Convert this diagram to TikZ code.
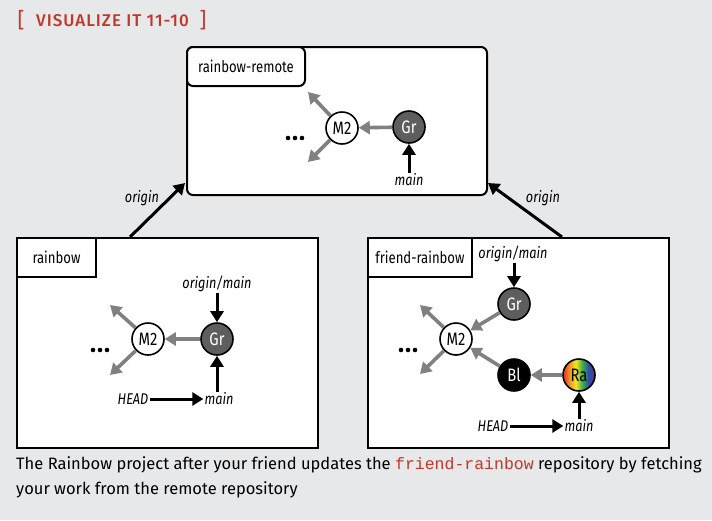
\documentclass[tikz,border=0pt]{standalone}
\usepackage{fontspec}
\setmainfont{Fira Sans}[FakeStretch=0.82]
\newfontfamily\capfont{Fira Sans}
\newfontfamily\titlefont{Fira Sans Medium}[LetterSpace=6]
\newfontfamily\codefont{Liberation Mono}
\usetikzlibrary{arrows.meta}
\definecolor{bg}{HTML}{E7E8E9}
\definecolor{titlered}{HTML}{C2372B}
\definecolor{arrgray}{HTML}{808080}
\definecolor{grfill}{HTML}{5E5E5E}
\definecolor{rbred}{HTML}{E8402A}
\definecolor{rborange}{HTML}{F39323}
\definecolor{rbyellow}{HTML}{F5E71C}
\definecolor{rbgreen}{HTML}{3FAE49}
\definecolor{rbblue}{HTML}{2B4FA8}
\definecolor{rbviolet}{HTML}{6B2C91}
\pgfdeclarehorizontalshading{rainbowshade}{100bp}{color(0bp)=(rbred); color(27bp)=(rbred); color(35bp)=(rborange); color(45bp)=(rbyellow); color(55bp)=(rbgreen); color(65bp)=(rbblue); color(73bp)=(rbviolet); color(100bp)=(rbviolet)}
\tikzset{
  box/.style={draw=black, line width=2pt, fill=white, anchor=north west, inner sep=0pt},
  lblbox/.style={draw=black, line width=2pt, fill=white, anchor=north west, inner sep=0pt, font=\fontsize{16}{16}\selectfont},
  commit/.style={circle, draw=black, line width=1.6pt, minimum size=32pt, inner sep=0pt, font=\fontsize{18}{18}\selectfont},
  grc/.style={commit, fill=grfill, text=white},
  blc/.style={commit, fill=black, text=white},
  wc/.style={commit, fill=white},
  rac/.style={commit, shading=rainbowshade},
  garrow/.style={draw=arrgray, line width=3.6pt, -{Triangle[length=11pt,width=13pt]}},
  barrow/.style={draw=black, line width=3pt, -{Triangle[length=11pt,width=13pt]}},
  lbl/.style={font=\fontsize{15.5}{15.5}\selectfont\itshape, inner sep=1pt},
  dot/.style={circle, fill=black, inner sep=0pt, minimum size=4.6pt},
}
\begin{document}
\begin{tikzpicture}[x=1pt,y=-1pt]
\fill[bg] (0,0) rectangle (712,520);
\useasboundingbox (0,0) rectangle (712,520);
% title
\node[text=titlered, font=\fontsize{21}{21}\selectfont\capfont, anchor=center] (lb) at (21,20) {[};
\node[text=titlered, font=\fontsize{17}{17}\selectfont\titlefont, anchor=west, inner sep=0pt] (title) at (36,21) {VISUALIZE IT 11-10};
\node[text=titlered, font=\fontsize{21}{21}\selectfont\capfont, anchor=center] (rb) at (203,20) {]};

% remote box
\node[box, rounded corners=6pt, minimum width=300pt, minimum height=148pt] (remote) at (186,46) {};
\node[lblbox, rounded corners=6pt, minimum width=118pt, minimum height=39pt] (remotelbl) at (186,46) {rainbow-remote};
\node[wc] (rm2) at (342,128) {M2};
\node[grc] (rgr) at (409,127) {Gr};
\coordinate (ru) at (308,92);
\coordinate (rd) at (308,162);
\draw[garrow] (rgr) -- (rm2);
\draw[garrow] (rm2) -- (ru);
\draw[garrow] (rm2) -- (rd);
\node[dot] (rd1) at (288,138) {};
\node[dot] (rd2) at (295,138) {};
\node[dot] (rd3) at (302,138) {};
\node[lbl] (rmain) at (409,180) {main};
\draw[barrow] (rmain.north) -- (rgr);

% rainbow box
\node[box, minimum width=301pt, minimum height=210pt] (rain) at (16,237) {};
\node[lblbox, minimum width=79pt, minimum height=39pt] (rainlbl) at (16,237) {rainbow};
\node[wc] (am2) at (148,339) {M2};
\node[grc] (agr) at (217,339) {Gr};
\coordinate (au) at (110,305);
\coordinate (ad) at (110,375);
\draw[garrow] (agr) -- (am2);
\draw[garrow] (am2) -- (au);
\draw[garrow] (am2) -- (ad);
\node[dot] (ad1) at (93,350) {};
\node[dot] (ad2) at (100,350) {};
\node[dot] (ad3) at (107,350) {};
\node[lbl] (aorig) at (217,284) {origin/main};
\draw[barrow] (aorig.south) -- (agr);
\node[lbl] (amain) at (219,399) {main};
\draw[barrow] (amain.north -| agr) -- (agr);
\node[lbl] (ahead) at (133,399) {HEAD};
\draw[barrow] (ahead.east) -- (amain.west);

% friend box
\node[box, minimum width=301pt, minimum height=210pt] (friend) at (367,237) {};
\node[lblbox, minimum width=104pt, minimum height=39pt] (friendlbl) at (367,237) {friend-rainbow};
\node[wc] (fm2) at (456,339) {M2};
\node[grc] (fgr) at (514,304) {Gr};
\node[blc] (fbl) at (514,375) {Bl};
\node[rac] (fra) at (579,375) {Ra};
\coordinate (fu) at (420,305);
\coordinate (fd) at (420,374);
\draw[garrow] (fgr) -- (fm2);
\draw[garrow] (fbl) -- (fm2);
\draw[garrow] (fra) -- (fbl);
\draw[garrow] (fm2) -- (fu);
\draw[garrow] (fm2) -- (fd);
\node[dot] (fd1) at (401,350) {};
\node[dot] (fd2) at (408,350) {};
\node[dot] (fd3) at (415,350) {};
\node[lbl] (forig) at (513,254) {origin/main};
\draw[barrow] (forig.south -| fgr) -- (fgr);
\node[lbl] (fmain) at (579,426) {main};
\draw[barrow] (fmain.north -| fra) -- (fra);
\node[lbl] (fhead) at (493,426) {HEAD};
\draw[barrow] (fhead.east) -- (fmain.west);

% origin arrows
\coordinate (o1s) at (130,237);
\coordinate (o1e) at (185,183);
\coordinate (o2s) at (562,237);
\coordinate (o2e) at (488,183);
\draw[barrow] (o1s) -- (o1e);
\draw[barrow] (o2s) -- (o2e);
\node[lbl] (o1l) at (142,198) {origin};
\node[lbl] (o2l) at (543,198) {origin};

% caption
\node[anchor=west, inner sep=0pt, font=\fontsize{16.5}{16.5}\selectfont\capfont] (cap1) at (16,465) {The Rainbow project after your friend updates the {\codefont\color{titlered}friend-rainbow} repository by fetching};
\node[anchor=west, inner sep=0pt, font=\fontsize{16.5}{16.5}\selectfont\capfont] (cap2) at (16,490) {your work from the remote repository};
\end{tikzpicture}
\end{document}
